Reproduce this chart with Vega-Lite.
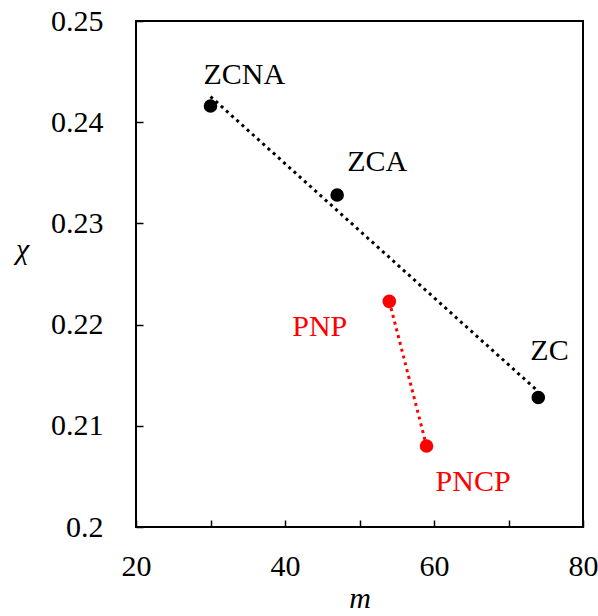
{
  "$schema": "https://vega.github.io/schema/vega-lite/v6.json",
  "autosize": {"type": "none"},
  "padding": {"left": 136, "top": 21, "right": 15, "bottom": 89},
  "width": 447,
  "height": 506,
  "background": "white",
  "config": {
    "font": "Liberation Serif",
    "view": {"stroke": "black", "strokeWidth": 2},
    "text": {"font": "Liberation Serif"},
    "axis": {"grid": false, "domain": false, "tickColor": "black", "tickWidth": 1.5, "tickSize": -7, "labelFont": "Liberation Serif", "labelFontSize": 30, "labelColor": "black", "titleFont": "Liberation Serif", "titleFontSize": 30, "titleFontStyle": "italic", "titleFontWeight": "normal", "titleColor": "black"}
  },
  "data": {"values": [
    {"name": "ZCNA", "m": 30, "chi": 0.2416, "group": "Z"},
    {"name": "ZCA", "m": 47, "chi": 0.2328, "group": "Z"},
    {"name": "ZC", "m": 74, "chi": 0.2128, "group": "Z"},
    {"name": "PNP", "m": 54, "chi": 0.2223, "group": "P"},
    {"name": "PNCP", "m": 59, "chi": 0.2080, "group": "P"}
  ]},
  "encoding": {
    "x": {"field": "m", "type": "quantitative", "scale": {"domain": [20, 80], "nice": false, "zero": false},
      "axis": {"title": "m", "values": [20, 30, 40, 50, 60, 70, 80], "labelExpr": "datum.value % 20 == 0 ? datum.label : ''", "labelBaseline": "alphabetic", "labelPadding": 55, "titleY": 80, "titleBaseline": "alphabetic", "labelFlush": false, "labelOverlap": false}},
    "y": {"field": "chi", "type": "quantitative", "scale": {"domain": [0.2, 0.25], "nice": false, "zero": false},
      "axis": {"title": "χ", "values": [0.2, 0.21, 0.22, 0.23, 0.24, 0.25], "labelExpr": "datum.value == 0.2 ? '0.2' : format(datum.value, '.2f')", "labelPadding": 40, "labelBaseline": "middle", "titleAngle": 0, "titleX": -114, "titleY": 237, "titleAlign": "center", "titleBaseline": "alphabetic", "labelFlush": false, "labelOverlap": false}}
  },
  "layer": [
    {
      "transform": [{"filter": "datum.group == 'Z'"}, {"regression": "chi", "on": "m"}],
      "mark": {"type": "line", "color": "black", "strokeWidth": 3, "strokeDash": [3, 4]},
      "encoding": {}
    },
    {
      "transform": [{"filter": "datum.group == 'P'"}],
      "mark": {"type": "line", "color": "#ff0000", "strokeWidth": 3, "strokeDash": [3, 4]},
      "encoding": {}
    },
    {
      "mark": {"type": "circle", "size": 185, "opacity": 1},
      "encoding": {"color": {"field": "group", "type": "nominal", "scale": {"domain": ["Z", "P"], "range": ["black", "#ff0000"]}, "legend": null}}
    },
    {
      "transform": [{"filter": "datum.name == 'ZCNA'"}],
      "mark": {"type": "text", "align": "left", "baseline": "alphabetic", "dx": -7, "dy": -22, "fontSize": 30, "color": "black"},
      "encoding": {"text": {"field": "name"}}
    },
    {
      "transform": [{"filter": "datum.name == 'ZCA'"}],
      "mark": {"type": "text", "align": "left", "baseline": "alphabetic", "dx": 10, "dy": -24, "fontSize": 30, "color": "black"},
      "encoding": {"text": {"field": "name"}}
    },
    {
      "transform": [{"filter": "datum.name == 'ZC'"}],
      "mark": {"type": "text", "align": "left", "baseline": "alphabetic", "dx": -8, "dy": -37, "fontSize": 30, "color": "black"},
      "encoding": {"text": {"field": "name"}}
    },
    {
      "transform": [{"filter": "datum.name == 'PNP'"}],
      "mark": {"type": "text", "align": "right", "baseline": "alphabetic", "dx": -42, "dy": 35, "fontSize": 30, "color": "#ff0000"},
      "encoding": {"text": {"field": "name"}}
    },
    {
      "transform": [{"filter": "datum.name == 'PNCP'"}],
      "mark": {"type": "text", "align": "left", "baseline": "alphabetic", "dx": 9, "dy": 45, "fontSize": 30, "color": "#ff0000"},
      "encoding": {"text": {"field": "name"}}
    }
  ]
}
